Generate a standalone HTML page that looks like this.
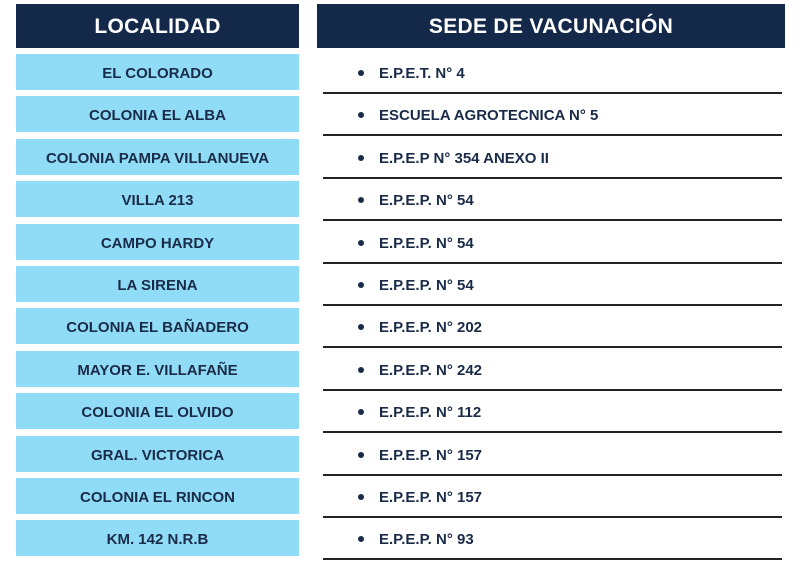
<!DOCTYPE html>
<html><head><meta charset="utf-8"><style>
body{margin:0;width:800px;height:568px;background:#fff;font-family:"Liberation Sans",sans-serif;position:relative;overflow:hidden}
.h{position:absolute;top:4px;height:44px;background:#14284a;color:#fff;font-weight:bold;font-size:21px;line-height:46px;text-align:center;letter-spacing:0.3px}
.b{position:absolute;left:16px;width:283px;height:36px;background:#90dcf7;color:#1a2b48;font-weight:bold;font-size:15px;line-height:40px;text-align:center}
.r{position:absolute;left:360px;height:20px;color:#1a2b48;font-weight:bold;font-size:15px;line-height:20px}
.r:before{content:"";position:absolute;left:-2px;top:6px;width:6px;height:6px;border-radius:50%;background:#1a2b48}
.r span{margin-left:19px}
.l{position:absolute;left:323px;width:459px;height:2px;background:#222}
</style></head><body>
<div class="h" style="left:16px;width:283px">LOCALIDAD</div>
<div class="h" style="left:317px;width:468px">SEDE DE VACUNACIÓN</div>
<div id="c"></div>
<script>
var L=["EL COLORADO","COLONIA EL ALBA","COLONIA PAMPA VILLANUEVA","VILLA 213","CAMPO HARDY","LA SIRENA","COLONIA EL BAÑADERO","MAYOR E. VILLAFAÑE","COLONIA EL OLVIDO","GRAL. VICTORICA","COLONIA EL RINCON","KM. 142 N.R.B"];
var R=["E.P.E.T. N° 4","ESCUELA AGROTECNICA N° 5","E.P.E.P N° 354 ANEXO II","E.P.E.P. N° 54","E.P.E.P. N° 54","E.P.E.P. N° 54","E.P.E.P. N° 202","E.P.E.P. N° 242","E.P.E.P. N° 112","E.P.E.P. N° 157","E.P.E.P. N° 157","E.P.E.P. N° 93"];
var h="";
for(var i=0;i<12;i++){var t=54+i*42.4;
h+='<div class="b" style="top:'+t+'px">'+L[i]+'</div>';
h+='<div class="r" style="top:'+(t+10)+'px"><span>'+R[i]+'</span></div>';
h+='<div class="l" style="top:'+(t+38)+'px"></div>';}
document.getElementById("c").innerHTML=h;
</script>
</body></html>
